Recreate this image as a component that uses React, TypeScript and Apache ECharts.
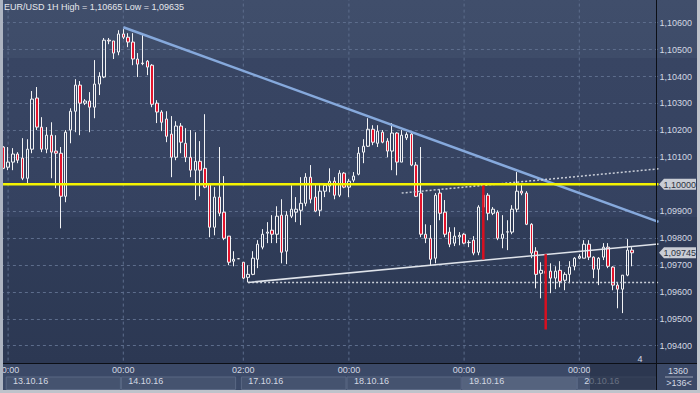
import { useEffect, useRef } from 'react';
import * as echarts from 'echarts';

const FONT = '"Liberation Sans", Arial, sans-serif';

// ---- time axis (hourly bars) ----
const dayRanges: [string, number, number][] = [
  ['12.10.16', 23, 23],
  ['13.10.16', 0, 23],
  ['14.10.16', 0, 23],
  ['16.10.16', 23, 23],
  ['17.10.16', 2, 23],
  ['18.10.16', 0, 23],
  ['19.10.16', 0, 23],
  ['20.10.16', 0, 16],
];
const categories: string[] = [];
for (const [d, h0, h1] of dayRanges) {
  for (let h = h0; h <= h1; h++) categories.push(`${d} ${String(h).padStart(2, '0')}:00`);
}
const labelCats = ['13.10.16 00:00', '14.10.16 00:00', '17.10.16 02:00', '18.10.16 00:00', '19.10.16 00:00', '20.10.16 00:00'];
const dateBoxes = ['13.10.16', '14.10.16', '17.10.16', '18.10.16', '19.10.16', '20.10.16'];
const highlightedDate = '19.10.16';

// ---- price axis ----
const Y_MIN = 1.093;
const Y_MAX = 1.107;
const Y_STEP = 0.001;

// ---- OHLC ----
const opens = [
  1.10138, 1.10063, 1.10082, 1.10112, 1.10097, 1.10022, 1.10130, 1.10320, 1.10212, 1.10130,
  1.10182, 1.10123, 1.10115, 1.09955, 1.10201, 1.10271, 1.10368, 1.10301, 1.10309, 1.10286,
  1.10372, 1.10398, 1.10535, 1.10532, 1.10491, 1.10558, 1.10546, 1.10528, 1.10465, 1.10450,
  1.10457, 1.10442, 1.10301, 1.10268, 1.10242, 1.10186, 1.10100, 1.10216, 1.10152, 1.10100,
  1.10052, 1.10085, 1.10059, 1.10000, 1.09840, 1.09952, 1.09896, 1.09807, 1.09714, 1.09723,
  1.09710, 1.09654, 1.09665, 1.09721, 1.09766, 1.09818, 1.09829, 1.09814, 1.09885, 1.09751,
  1.09881, 1.09896, 1.09903, 1.09929, 1.10026, 1.09952, 1.09903, 1.09974, 1.09993, 1.10011,
  1.09959, 1.10041, 1.09989, 1.10015, 1.10037, 1.10119, 1.10141, 1.10204, 1.10152, 1.10193,
  1.10160, 1.10123, 1.10190, 1.10082, 1.10172, 1.10186, 1.10071, 1.09967, 1.09814, 1.09799,
  1.09725, 1.09967, 1.09896, 1.09822, 1.09781, 1.09804, 1.09814, 1.09784, 1.09792, 1.09747,
  1.09959, 1.09959, 1.09892, 1.09896, 1.09799, 1.09822, 1.09822, 1.09907, 1.09974, 1.09967,
  1.09851, 1.09751, 1.09669, 1.09677, 1.09677, 1.09651, 1.09680, 1.09643, 1.09665, 1.09695,
  1.09725, 1.09725, 1.09777, 1.09729, 1.09684, 1.09729, 1.09766, 1.09692, 1.09625, 1.09610,
  1.09662, 1.09755,
];
const closes = [
  1.10059, 1.10082, 1.10112, 1.10089, 1.10022, 1.10130, 1.10316, 1.10212, 1.10130, 1.10182,
  1.10119, 1.10115, 1.09955, 1.10193, 1.10271, 1.10368, 1.10301, 1.10309, 1.10286, 1.10372,
  1.10401, 1.10535, 1.10532, 1.10487, 1.10558, 1.10546, 1.10528, 1.10465, 1.10446, 1.10448,
  1.10435, 1.10297, 1.10268, 1.10230, 1.10178, 1.10100, 1.10216, 1.10156, 1.10100, 1.10052,
  1.10085, 1.10052, 1.09989, 1.09840, 1.09952, 1.09892, 1.09799, 1.09710, 1.09721, 1.09723,
  1.09651, 1.09665, 1.09725, 1.09777, 1.09814, 1.09822, 1.09814, 1.09881, 1.09747, 1.09885,
  1.09907, 1.09907, 1.09929, 1.10026, 1.09944, 1.09900, 1.09974, 1.09996, 1.10011, 1.09959,
  1.10041, 1.09989, 1.10011, 1.10030, 1.10115, 1.10141, 1.10204, 1.10156, 1.10197, 1.10156,
  1.10123, 1.10190, 1.10082, 1.10182, 1.10185, 1.10071, 1.09955, 1.09814, 1.09799, 1.09721,
  1.09959, 1.09892, 1.09814, 1.09777, 1.09807, 1.09810, 1.09781, 1.09783, 1.09744, 1.09915,
  1.09915, 1.09892, 1.09907, 1.09799, 1.09814, 1.09823, 1.09907, 1.09974, 1.09967, 1.09851,
  1.09744, 1.09665, 1.09680, 1.09669, 1.09651, 1.09677, 1.09639, 1.09665, 1.09692, 1.09725,
  1.09732, 1.09777, 1.09729, 1.09684, 1.09725, 1.09766, 1.09695, 1.09625, 1.09610, 1.09662,
  1.09755, 1.09745,
];
const lows = [
  1.10056, 1.10052, 1.10052, 1.10078, 1.10015, 1.10000, 1.10115, 1.10201, 1.10119, 1.10115,
  1.10022, 1.09985, 1.09836, 1.09933, 1.10152, 1.10193, 1.10182, 1.10294, 1.10193, 1.10245,
  1.10331, 1.10394, 1.10520, 1.10465, 1.10479, 1.10539, 1.10509, 1.10442, 1.10398, 1.10442,
  1.10405, 1.10286, 1.10227, 1.10197, 1.10156, 1.10026, 1.10089, 1.10115, 1.10082, 1.10026,
  1.09941, 1.09955, 1.09985, 1.09803, 1.09810, 1.09881, 1.09792, 1.09699, 1.09695, 1.09722,
  1.09647, 1.09635, 1.09662, 1.09688, 1.09758, 1.09781, 1.09781, 1.09781, 1.09706, 1.09703,
  1.09874, 1.09859, 1.09848, 1.09918, 1.09929, 1.09896, 1.09881, 1.09952, 1.09970, 1.09944,
  1.09952, 1.09985, 1.09952, 1.10007, 1.10033, 1.10078, 1.10138, 1.10145, 1.10138, 1.10152,
  1.10100, 1.10052, 1.10033, 1.10082, 1.10164, 1.10067, 1.09952, 1.09803, 1.09781, 1.09699,
  1.09706, 1.09866, 1.09803, 1.09766, 1.09770, 1.09773, 1.09777, 1.09766, 1.09736, 1.09736,
  1.09903, 1.09866, 1.09885, 1.09792, 1.09762, 1.09755, 1.09814, 1.09896, 1.09959, 1.09848,
  1.09725, 1.09613, 1.09576, 1.09606, 1.09595, 1.09610, 1.09617, 1.09606, 1.09632, 1.09680,
  1.09721, 1.09725, 1.09718, 1.09651, 1.09625, 1.09718, 1.09688, 1.09606, 1.09539, 1.09521,
  1.09658, 1.09695,
];
const highs = [
  1.10141, 1.10138, 1.10134, 1.10119, 1.10171, 1.10167, 1.10346, 1.10361, 1.10249, 1.10212,
  1.10230, 1.10182, 1.10138, 1.10201, 1.10282, 1.10390, 1.10383, 1.10316, 1.10342, 1.10461,
  1.10416, 1.10543, 1.10543, 1.10532, 1.10572, 1.10576, 1.10561, 1.10561, 1.10487, 1.10554,
  1.10461, 1.10446, 1.10312, 1.10275, 1.10271, 1.10253, 1.10234, 1.10227, 1.10208, 1.10201,
  1.10193, 1.10160, 1.10260, 1.10004, 1.09989, 1.10138, 1.10030, 1.09807, 1.09751, 1.09724,
  1.09710, 1.09699, 1.09751, 1.09792, 1.09833, 1.09859, 1.09885, 1.09918, 1.09944, 1.09900,
  1.09996, 1.09952, 1.10026, 1.10041, 1.10071, 1.10004, 1.10004, 1.10004, 1.10059, 1.10026,
  1.10052, 1.10045, 1.10019, 1.10045, 1.10138, 1.10167, 1.10245, 1.10219, 1.10219, 1.10201,
  1.10171, 1.10227, 1.10193, 1.10201, 1.10193, 1.10190, 1.10082, 1.10138, 1.09851, 1.09848,
  1.09967, 1.09981, 1.09941, 1.09840, 1.09840, 1.09822, 1.09818, 1.09792, 1.09807, 1.09922,
  1.09993, 1.09967, 1.09915, 1.09903, 1.09885, 1.09866, 1.09922, 1.10045, 1.10004, 1.09974,
  1.09855, 1.09766, 1.09710, 1.09710, 1.09706, 1.09695, 1.09714, 1.09673, 1.09714, 1.09729,
  1.09740, 1.09792, 1.09792, 1.09732, 1.09729, 1.09781, 1.09781, 1.09695, 1.09636, 1.09662,
  1.09796, 1.09766,
];

// ---- drawn studies: [bar index, price] ----
const resistanceLine = [[25, 1.10583], [136.5, 1.0986]];
const levelPrice = 1.1;
const levelLine = [[-0.5, levelPrice], [136.5, levelPrice]];
const supportLine = [[51, 1.09635], [136.5, 1.09778]];
const lowDotted = [[51, 1.09635], [136.5, 1.09635]];
const risingDotted = [[83, 1.09967], [136.5, 1.10057]];
const measure1 = [[100, 1.09995], [100, 1.0972]];
const measure2 = [[113, 1.0974], [113, 1.0946]];
const lastPrice = 1.09745;

const titleText = 'EUR/USD 1H High = 1,10665 Low = 1,09635';
const barsCountText = '1360';
const zoomText = '>136<';
const cornerText = '4';

const fmtPrice = (v: number) => v.toFixed(5).replace('.', ',');

export default function App() {
  const ref = useRef<HTMLDivElement>(null);
  useEffect(() => {
    const el = ref.current!;
    const chart = echarts.init(el, null, { renderer: 'svg' });
    const N = categories.length;
    const labelIdx = labelCats.map((c) => categories.indexOf(c));
    const candleData = opens.map((o, i) => [o, closes[i], lows[i], highs[i]]);

    const ln = (data: number[][], color: string, width: number, type: any = 'solid', z = 3) => ({
      type: 'line',
      xAxisIndex: 2,
      yAxisIndex: 0,
      data,
      symbol: 'none',
      silent: true,
      z,
      lineStyle: { color, width, type },
    });

    const gridSeries = labelIdx.map((k) =>
      ln([[k, Y_MIN], [k, Y_MAX]], '#5d6d8c', 1, [3, 3], 1)
    );

    const hiddenLabel = (v: number) =>
      v < Y_MIN + Y_STEP / 2 || v > Y_MAX - Y_STEP / 2 || Math.abs(v - levelPrice) < Y_STEP / 2;

    const option: any = {
      animation: false,
      backgroundColor: 'transparent',
      title: {
        text: titleText,
        left: 4,
        top: 2,
        padding: 0,
        textStyle: { color: '#e4e7ec', fontSize: 9, fontWeight: 'normal', fontFamily: FONT },
      },
      grid: { left: 0.9, right: 41.5, top: -4.24, bottom: 20.4, containLabel: false, outerBoundsMode: 'none' },
      xAxis: [
        {
          type: 'category',
          data: categories,
          position: 'bottom',
          offset: -10,
          boundaryGap: true,
          axisLine: { show: false },
          axisTick: { show: false },
          splitLine: { show: false },
          axisLabel: {
            interval: (i: number) => labelIdx.includes(i),
            formatter: (v: string) => v.split(' ')[1],
            color: '#d3d8e2',
            fontSize: 9,
            fontFamily: FONT,
            margin: 3,
          },
          z: 60,
        },
        {
          type: 'category',
          data: categories,
          position: 'bottom',
          offset: -10,
          boundaryGap: true,
          axisLine: { show: false },
          axisTick: { show: false },
          splitLine: { show: false },
          axisLabel: {
            interval: (i: number) => labelIdx.includes(i),
            formatter: (v: string) => v.split(' ')[0],
            color: '#d3d8e2',
            fontSize: 9,
            fontFamily: FONT,
            margin: 14,
            align: 'left',
            padding: [0, 0, 0, 5],
          },
          z: 60,
        },
        { type: 'value', min: -0.5, max: N - 0.5, show: false },
      ],
      yAxis: {
        type: 'value',
        position: 'right',
        min: Y_MIN,
        max: Y_MAX,
        interval: Y_STEP,
        axisLine: { show: false },
        axisTick: { show: false },
        axisLabel: {
          margin: 1,
          color: '#d3d8e2',
          fontSize: 9,
          fontFamily: FONT,
          formatter: (v: number) => (hiddenLabel(v) ? '' : fmtPrice(v)),
        },
        splitLine: { show: true, lineStyle: { color: '#5d6d8c', width: 1, type: [3, 3] } },
      },
      series: [
        ...gridSeries,
        {
          type: 'candlestick',
          xAxisIndex: 0,
          yAxisIndex: 0,
          data: candleData,
          barWidth: 3,
          z: 2,
          itemStyle: {
            color: 'rgba(0,0,0,0)',
            color0: '#e3132c',
            borderColor: '#f2f3f5',
            borderColor0: '#f2f3f5',
            borderWidth: 1,
          },
        },
        ln(resistanceLine, '#86a9dc', 2.5),
        ln(lowDotted, '#c9ced8', 1.5, [2, 2]),
        ln(risingDotted, '#c9ced8', 1.5, [2, 2]),
        ln(supportLine, '#dfe3ea', 1.5),
        ln(levelLine, '#f4f400', 2.5),
        ln(measure1, '#d80f20', 2.5),
        ln(measure2, '#d80f20', 2.5),
      ],
    };
    chart.setOption(option);

    const px = (k: number) => chart.convertToPixel({ xAxisIndex: 2 } as any, k) as number;
    const py = (v: number) => chart.convertToPixel({ yAxisIndex: 0 } as any, v) as number;
    const axisX = 656.5;
    const bandTop = 363;

    const g: any[] = [];
    g.push({ type: 'rect', shape: { x: 0, y: bandTop, width: 700, height: 30 }, style: { fill: '#3b4967' }, z: 50, silent: true });
    for (const d of dateBoxes) {
      const first = categories.findIndex((c) => c.startsWith(d));
      let last = -1;
      categories.forEach((c, i) => { if (c.startsWith(d)) last = i; });
      const x0 = Math.max(3, px(first - 0.5));
      const x1 = Math.min(axisX, px(last + 0.5));
      g.push({
        type: 'rect',
        shape: { x: x0 + 0.5, y: 377, width: x1 - x0 - 1, height: 12.5 },
        style: { fill: d === highlightedDate ? '#55637e' : '#45536f', stroke: '#5a6884', lineWidth: 1 },
        z: 51,
        silent: true,
      });
    }
    // scroll thumb overlay
    g.push({ type: 'rect', shape: { x: 590, y: 364, width: axisX - 590, height: 26 }, style: { fill: 'rgba(36,45,66,0.62)' }, z: 70, silent: true });
    // black axis frame lines
    g.push({ type: 'line', shape: { x1: 0, y1: bandTop + 0.5, x2: 697, y2: bandTop + 0.5 }, style: { stroke: '#0c0f16', lineWidth: 1 }, z: 75, silent: true });
    g.push({ type: 'line', shape: { x1: axisX, y1: 0, x2: axisX, y2: 390 }, style: { stroke: '#0c0f16', lineWidth: 1 }, z: 75, silent: true });
    // bottom-right box
    g.push({ type: 'line', shape: { x1: 665, y1: 377, x2: 693, y2: 377 }, style: { stroke: '#9aa3b5', lineWidth: 1 }, z: 75, silent: true });
    g.push({ type: 'text', x: 678, y: 371, style: { text: barsCountText, fill: '#d3d8e2', font: `9px ${FONT}`, textAlign: 'center', textVerticalAlign: 'middle' }, z: 80, silent: true });
    g.push({ type: 'text', x: 679, y: 383, style: { text: zoomText, fill: '#d3d8e2', font: `9px ${FONT}`, textAlign: 'center', textVerticalAlign: 'middle' }, z: 80, silent: true });
    g.push({ type: 'text', x: 640, y: 358.5, style: { text: cornerText, fill: '#d3d8e2', font: `9px ${FONT}`, textAlign: 'center', textVerticalAlign: 'middle' }, z: 80, silent: true });
    // price tags
    const tag = (price: number) => {
      const y = py(price);
      g.push({
        type: 'polygon',
        shape: { points: [[659, y], [664, y - 5.5], [696, y - 5.5], [696, y + 5.5], [664, y + 5.5]] },
        style: { fill: '#c9cdd5' },
        z: 80,
        silent: true,
      });
      g.push({ type: 'text', x: 663.5, y: y + 0.5, style: { text: fmtPrice(price), fill: '#2c3342', font: `9px ${FONT}`, textAlign: 'left', textVerticalAlign: 'middle' }, z: 81, silent: true });
    };
    tag(levelPrice);
    tag(lastPrice);
    // window frame
    g.push({ type: 'rect', shape: { x: 0, y: 0, width: 3, height: 393 }, style: { fill: '#aeb5c2' }, z: 90, silent: true });
    g.push({ type: 'rect', shape: { x: 0, y: 390, width: 700, height: 3 }, style: { fill: '#bfc3cb' }, z: 90, silent: true });
    g.push({ type: 'rect', shape: { x: 697, y: 0, width: 3, height: 393 }, style: { fill: '#bfc3cb' }, z: 90, silent: true });

    chart.setOption({ graphic: g });

    return () => chart.dispose();
  }, []);

  return (
    <div
      ref={ref}
      style={{
        position: 'fixed',
        left: 0,
        top: 0,
        width: 700,
        height: 393,
        background:
          'linear-gradient(to bottom, #404e6b 0px, #3e4c69 58px, #384563 58px, #354260 217px, #303d59 217px, #2c3853 363px, #2c3853 393px)',
      }}
    />
  );
}
